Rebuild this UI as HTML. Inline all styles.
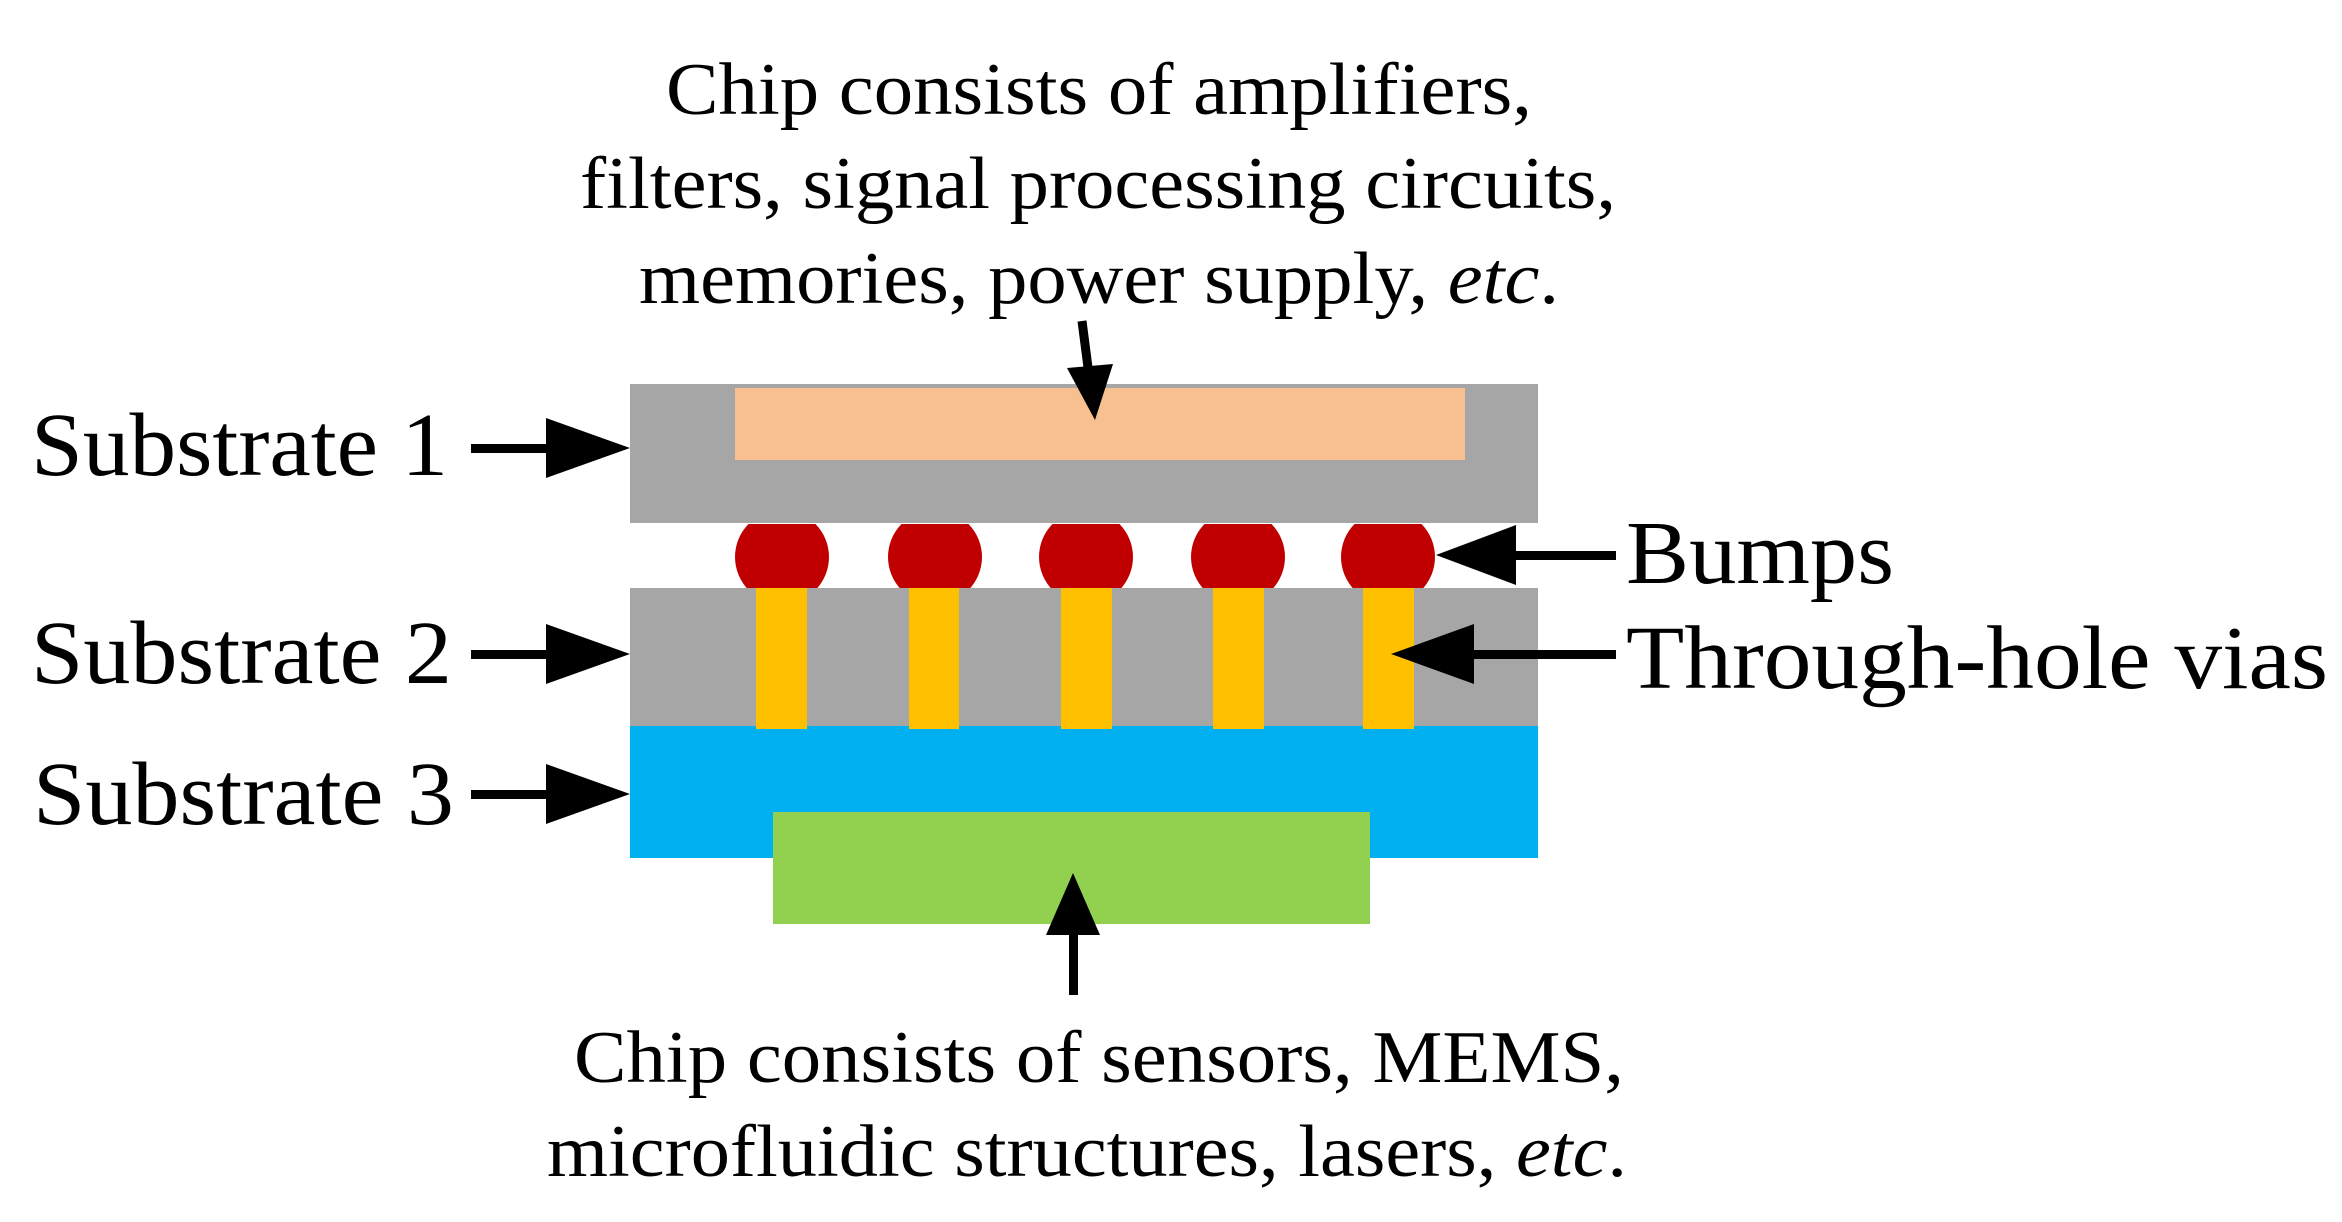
<!DOCTYPE html>
<html><head><meta charset="utf-8"><style>
html,body{margin:0;padding:0;background:#fff;}
svg{display:block;}
text{font-family:"Liberation Serif",serif;fill:#000;}
</style></head><body>
<svg width="2342" height="1222" viewBox="0 0 2342 1222" xmlns="http://www.w3.org/2000/svg">
<defs><clipPath id="bc"><rect x="0" y="524" width="2342" height="68"/></clipPath></defs>
<rect x="0" y="0" width="2342" height="1222" fill="#fff"/>
<rect x="630" y="384" width="908" height="139" fill="#a6a6a6"/>
<rect x="735" y="388" width="730" height="72" fill="#f8c090"/>
<g fill="#c00000" clip-path="url(#bc)">
<circle cx="782" cy="557" r="47"/>
<circle cx="935" cy="557" r="47"/>
<circle cx="1086" cy="557" r="47"/>
<circle cx="1238" cy="557" r="47"/>
<circle cx="1388" cy="557" r="47"/>
</g>
<rect x="630" y="588" width="908" height="140" fill="#a6a6a6"/>
<rect x="630" y="726" width="908" height="132" fill="#00b0f0"/>
<g fill="#ffc000">
<rect x="756" y="588" width="51" height="141"/>
<rect x="909" y="588" width="50" height="141"/>
<rect x="1061" y="588" width="51" height="141"/>
<rect x="1213" y="588" width="51" height="141"/>
<rect x="1363" y="588" width="51" height="141"/>
</g>
<rect x="773" y="812" width="597" height="112" fill="#92d050"/>
<g fill="#000" stroke="none">
<rect x="471" y="444" width="80" height="9"/><polygon points="546,418 630,448 546,478"/>
<rect x="471" y="650" width="80" height="9"/><polygon points="546,624 630,654 546,684"/>
<rect x="471" y="790" width="80" height="9"/><polygon points="546,764 630,794 546,824"/>
<rect x="1510" y="551" width="106" height="9"/><polygon points="1516,525 1436,555 1516,585"/>
<rect x="1468" y="650" width="148" height="9"/><polygon points="1474,624 1391,654 1474,684"/>
<polygon points="1073,873 1046,935 1100,935"/><rect x="1069" y="925" width="9" height="70"/>
</g>
<line x1="1082" y1="321" x2="1090" y2="383" stroke="#000" stroke-width="9"/>
<polygon points="1095,420 1067,368 1113,364" fill="#000"/>
<g font-size="74">
<text x="666" y="114" textLength="866" lengthAdjust="spacingAndGlyphs">Chip consists of amplifiers,</text>
<text x="580" y="208" textLength="1036" lengthAdjust="spacingAndGlyphs">filters, signal processing circuits,</text>
<text x="639" y="303" textLength="920" lengthAdjust="spacingAndGlyphs">memories, power supply, <tspan font-style="italic">etc</tspan>.</text>
<text x="574" y="1082" textLength="1050" lengthAdjust="spacingAndGlyphs">Chip consists of sensors, MEMS,</text>
<text x="547" y="1176" textLength="1080" lengthAdjust="spacingAndGlyphs">microfluidic structures, lasers, <tspan font-style="italic">etc</tspan>.</text>
</g>
<g font-size="90">
<text x="31" y="475" textLength="417" lengthAdjust="spacingAndGlyphs">Substrate 1</text>
<text x="31" y="683" textLength="421" lengthAdjust="spacingAndGlyphs">Substrate 2</text>
<text x="33" y="824" textLength="421" lengthAdjust="spacingAndGlyphs">Substrate 3</text>
<text x="1626" y="583" textLength="268" lengthAdjust="spacingAndGlyphs">Bumps</text>
<text x="1626" y="688" textLength="702" lengthAdjust="spacingAndGlyphs">Through-hole vias</text>
</g>
</svg>
</body></html>
